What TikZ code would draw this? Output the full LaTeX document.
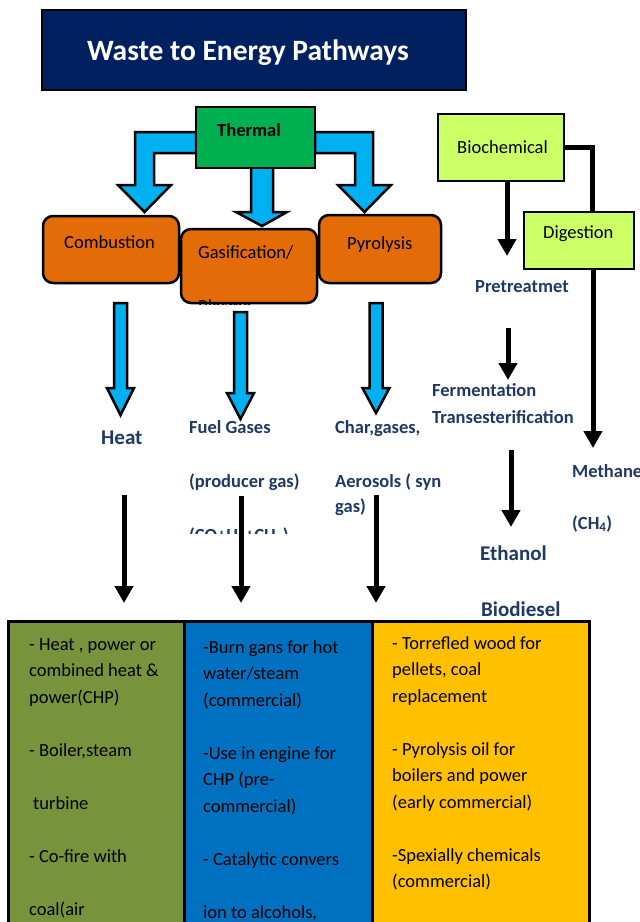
\documentclass[tikz,border=0pt]{standalone}
\usepackage{fontspec}
\setmainfont{Carlito}
\usetikzlibrary{arrows.meta}

\definecolor{titlenavy}{HTML}{002060}
\definecolor{txtnavy}{HTML}{1F3864}
\definecolor{thermgreen}{HTML}{00B050}
\definecolor{procorange}{HTML}{E36C09}
\definecolor{biolime}{HTML}{CCFF66}
\definecolor{arrowblue}{HTML}{00B0F0}
\definecolor{cellgreen}{HTML}{77933C}
\definecolor{cellblue}{HTML}{0070C0}
\definecolor{cellyellow}{HTML}{FFC000}

\tikzset{
  box/.style={draw=black, line width=2pt, inner sep=0pt},
  procbox/.style={box, fill=procorange, rounded corners=10pt, line width=2.5pt},
  boxtxt/.style={font=\fontsize{18.5}{22}\selectfont, inner sep=0pt, anchor=base west},
  pathtxt/.style={font=\bfseries\fontsize{18.5}{25}\selectfont, text=txtnavy, inner sep=0pt, anchor=base west, align=left},
  bigtxt/.style={pathtxt, font=\bfseries\fontsize{21}{25}\selectfont},
  bluearrow/.style={draw=black, line width=2.5pt, fill=arrowblue, line join=miter},
  blkarrow/.style={line width=5pt, -{Triangle[width=18pt,length=17pt]}},
  cell/.style={draw=black, line width=2.5pt, inner sep=0pt, anchor=north west, minimum height=330pt},
  celltxt/.style={font=\fontsize{18.5}{26.5}\selectfont, inner sep=0pt, anchor=base west, align=left}
}

\begin{document}
\begin{tikzpicture}[x=1pt,y=-1pt]
\clip (0,0) rectangle (640,922);
\fill[white] (0,0) rectangle (640,922);

\node[box, fill=titlenavy, minimum width=424pt, minimum height=80pt] (title) at (254,50) {};
\node[boxtxt, anchor=base, text=white, font=\bfseries\fontsize{29.5}{34}\selectfont] (titletxt) at (248,60) {Waste to Energy Pathways};

\draw[bluearrow] (196,132) -- (135,132) -- (135,185) -- (118,185) -- (144.5,212) -- (171,185) -- (154,185) -- (154,153) -- (196,153) -- cycle;
\draw[bluearrow] (315,132) -- (373,132) -- (373,185) -- (391,185) -- (364.5,212) -- (338,185) -- (355,185) -- (355,153) -- (315,153) -- cycle;
\draw[bluearrow] (251,166) -- (273,166) -- (273,212) -- (287,212) -- (262,226) -- (236,212) -- (251,212) -- cycle;

\node[box, fill=thermgreen, minimum width=119pt, minimum height=61pt] (therm) at (255.5,137.5) {};
\node[boxtxt, font=\bfseries\fontsize{18.5}{22}\selectfont] (thermtxt) at (217,136) {Thermal};

\node[procbox, minimum width=136pt, minimum height=67pt] (comb) at (111,249.5) {};
\node[procbox, minimum width=136pt, minimum height=74pt] (gasi) at (249,266) {};
\node[procbox, minimum width=122pt, minimum height=68pt] (pyro) at (380,249) {};
\node[boxtxt] (combtxt) at (64,248) {Combustion};
\node[boxtxt] (gasitxt) at (198,258) {Gasification/};
\node[boxtxt] (pyrotxt) at (347,249) {Pyrolysis};
\begin{scope}
\clip[rounded corners=10pt] (gasi.south west) rectangle (gasi.north east);
\node[boxtxt] (plasmatxt) at (198,312) {Plasma};
\end{scope}

\foreach \x/\a/\b/\c in {120.5/303/388/415, 240.5/312/393/419, 376/303/388/413}
  \draw[bluearrow] (\x-6.5,\a) -- (\x+6.5,\a) -- (\x+6.5,\b) -- (\x+13.5,\b) -- (\x,\c) -- (\x-13.5,\b) -- (\x-6.5,\b) -- cycle;

\node[bigtxt] (heat) at (101,444) {Heat};
\begin{scope}
\clip (185,400) rectangle (335,533);
\node[pathtxt] (fuel) at (189,541) {Fuel Gases\\[29pt](producer gas)\\[29pt](CO+H\textsubscript{2}+CH\textsubscript{4})};
\end{scope}
\node[pathtxt] (char) at (335,512) {Char,gases,\\[29pt]Aerosols ( syn\\gas)};

\coordinate (h1) at (124,495);
\coordinate (h2) at (124,603);
\coordinate (g1) at (241,496);
\coordinate (g2) at (241,603);
\coordinate (p1) at (376,495);
\coordinate (p2) at (376,603);
\draw[blkarrow] (h1) -- (h2);
\draw[blkarrow] (g1) -- (g2);
\draw[blkarrow] (p1) -- (p2);

\draw[line width=5pt] (564,147.5) -| (592,214);
\node[box, fill=biolime, minimum width=126pt, minimum height=67pt] (bio) at (501,147.5) {};
\node[box, fill=biolime, minimum width=110pt, minimum height=57pt] (dig) at (579,240.5) {};
\node[boxtxt] (biotxt) at (457,153) {Biochemical};
\node[boxtxt] (digtxt) at (543,238) {Digestion};

\coordinate (pre) at (507,256);
\coordinate (f1) at (508,328);
\coordinate (f2) at (508,380);
\coordinate (e1) at (511,450);
\coordinate (e2) at (511,527);
\coordinate (meth) at (593,448);
\draw[blkarrow] ([xshift=6pt]bio.south) -- (pre);
\draw[blkarrow] (f1) -- (f2);
\draw[blkarrow] (e1) -- (e2);
\draw[blkarrow] ([xshift=14pt]dig.south) -- (meth);

\node[pathtxt] (pretxt) at (475,292) {Pretreatmet};
\node[pathtxt] (ferm) at (432,423) {Fermentation\\[2pt]Transesterification};
\node[bigtxt] (eth) at (480,560) {Ethanol};
\node[bigtxt] (biod) at (481,616) {Biodiesel};
\node[pathtxt] (methtxt) at (572,529) {Methane\\[27pt](CH\textsubscript{4})};

\node[cell, fill=cellgreen, minimum width=176pt] (tabheat) at (7,620) {};
\node[cell, fill=cellblue, minimum width=188pt] (tabgas) at (183,620) {};
\node[cell, fill=cellyellow, minimum width=217pt] (tabpyro) at (371,620) {};

\node[celltxt] (heatuse) at (29,915) {- Heat , power or\\combined heat \&\\power(CHP)\\[26.5pt]- Boiler,steam\\[26.5pt]\hspace{4pt}turbine\\[26.5pt]- Co-fire with\\[26.5pt]coal(air};
\node[celltxt] (gasuse) at (203,918) {-Burn gans for hot\\water/steam\\(commercial)\\[26.5pt]-Use in engine for\\CHP (pre-\\commercial)\\[26.5pt]- Catalytic convers\\[26.5pt]ion to alcohols,};
\node[celltxt] (pyrouse) at (392,887.5) {- Torrefled wood for\\pellets, coal\\replacement\\[26.5pt]- Pyrolysis oil for\\boilers and power\\(early commercial)\\[26.5pt]-Spexially chemicals\\(commercial)};
\end{tikzpicture}
\end{document}
